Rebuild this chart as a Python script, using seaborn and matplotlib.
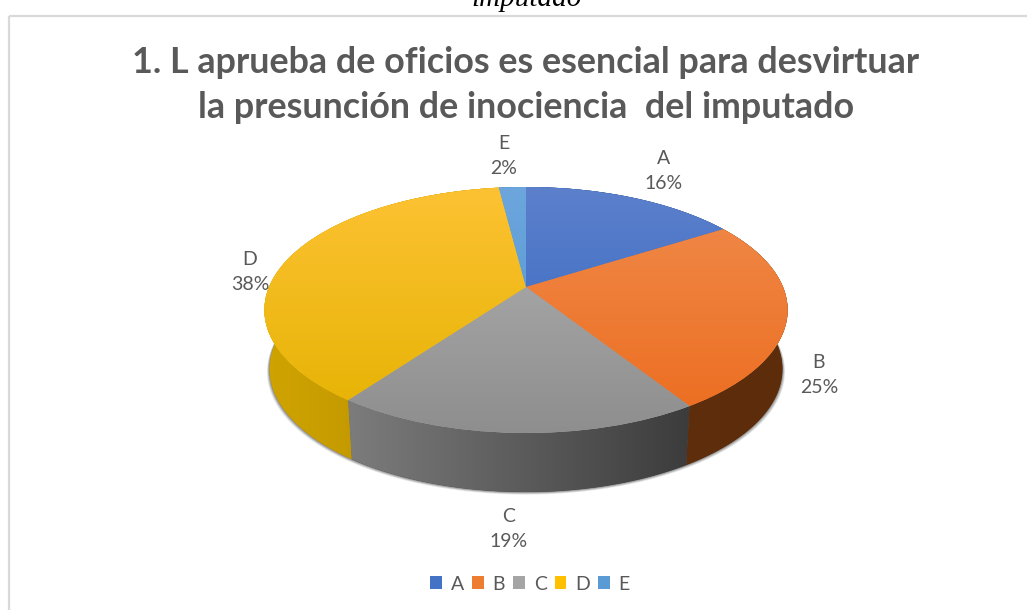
import numpy as np
import matplotlib
matplotlib.use("Agg")
import matplotlib.pyplot as plt
import seaborn as sns
from matplotlib.colors import LinearSegmentedColormap
from matplotlib.patches import Polygon, Rectangle
from matplotlib.transforms import Affine2D, Transform

categories = ["A", "B", "C", "D", "E"]
percentages = [16, 25, 19, 38, 2]
title_text = "1. L aprueba de oficios es esencial para desvirtuar\nla presunción de inociencia  del imputado"
caption_text = "imputado"

base_colors = ["#4472C4", "#ED7D31", "#A5A5A5", "#FFC000", "#5B9BD5"]
top_light = ["#5C80CC", "#F08B4C", "#B2B2B2", "#FDC233", "#6CA6DC"]
top_dark = ["#3064BE", "#EC6C1E", "#8E8E8E", "#E4B200", "#4E94D4"]
wall_left = ["#3A5A9A", "#5F2E0C", "#7C7C7C", "#CFA400", "#4A7FB0"]
wall_right = ["#2A4474", "#5C2C0B", "#3C3C3C", "#B48A00", "#3A6A94"]

sns.set_theme(style="white")
plt.rcParams["font.family"] = ["Lato", "DejaVu Sans"]

GREY = "#595959"
CX, CY = 526, 287          # apex of the pie on the canvas
SX, SY, K = 257, 118.7, 0.187  # perspective of the tilted disc
DEPTH, BOTTOM_SCALE = 59, 0.98


class Perspective(Transform):
    input_dims = output_dims = 2
    is_separable = False
    has_inverse = False

    def transform_non_affine(self, values):
        values = np.asarray(values, dtype=float)
        d = 1 + K * values[:, 1]
        return np.column_stack([values[:, 0] / d, values[:, 1] / d])


def rim(theta1, theta2, scale=1.0, drop=0.0):
    t = np.radians(np.linspace(theta1, theta2, 160))
    d = 1 + K * np.sin(t)
    return np.column_stack([CX + scale * SX * np.cos(t) / d,
                            CY + drop - SY * np.sin(t) / d])


fig = plt.figure(figsize=(10.27, 6.10), dpi=100, facecolor="white")
ax = fig.add_axes([0, 0, 1, 1])

wedges, _ = ax.pie(percentages, colors=sns.color_palette(base_colors),
                   startangle=90, counterclock=False, radius=1)
ax.set_aspect("auto")
ax.set_xlim(0, 1027)
ax.set_ylim(610, 0)
ax.set_autoscale_on(False)

canvas = Affine2D().scale(SX, -SY).translate(CX, CY) + ax.transData
projection = Perspective() + canvas


def gradient(clip, c0, c1, extent, horizontal, z):
    ramp = np.linspace(0, 1, 256)
    data = ramp[None, :] if horizontal else ramp[:, None]
    cmap = LinearSegmentedColormap.from_list("g", [c0, c1])
    im = ax.imshow(data, cmap=cmap, extent=extent, aspect="auto",
                   origin="upper", zorder=z, interpolation="bilinear")
    im.set_clip_path(clip)


# soft shadow under the side wall
for grow, off, alpha in [(2.6, 2.6, 0.10), (1.8, 1.8, 0.16), (0.9, 0.9, 0.22)]:
    ring = rim(0, 360, BOTTOM_SCALE + grow / SX, DEPTH + off)
    ax.add_patch(Polygon(ring, closed=True, fc="black", ec="none", alpha=alpha, zorder=1))

# side wall, one strip for each slice
for w, c0, c1 in zip(wedges, wall_left, wall_right):
    outline = np.vstack([rim(w.theta1, w.theta2),
                         rim(w.theta1, w.theta2, BOTTOM_SCALE, DEPTH)[::-1]])
    strip = Polygon(outline, closed=True, fc=c1, ec="none", zorder=2)
    ax.add_patch(strip)
    x0, x1 = outline[:, 0].min(), outline[:, 0].max()
    gradient(strip, c0, c1, (x0, x1, outline[:, 1].max(), outline[:, 1].min()), True, 2.1)

# top face of the disc
for w, c0, c1 in zip(wedges, top_light, top_dark):
    w.set_transform(projection)
    w.set_edgecolor("none")
    w.set_zorder(3)
    gradient(w, c0, c1, (CX - 265, CX + 265, 433, 187), False, 3.1)

# chart frame (runs off the canvas on the right and at the bottom)
ax.add_patch(Rectangle((9, 15.5), 1040, 620, fc="none", ec="#D9D9D9", lw=1.6, zorder=0.5))

ax.text(527, 6, caption_text, family="Liberation Serif", style="italic",
        fontsize=21, color="black", ha="center", va="baseline")
ax.text(526, 85, title_text, fontsize=25.8, fontweight="bold", color=GREY,
        ha="center", va="center", linespacing=1.47)

label_positions = [(664, 171), (819, 375), (509, 529), (250, 272), (504, 156)]
for cat, pct, (x, y) in zip(categories, percentages, label_positions):
    ax.text(x, y, f"{cat}\n{pct}%", fontsize=14, color=GREY, ha="center",
            va="center", linespacing=1.62, zorder=5)

ax.legend(wedges, categories, loc="center", bbox_to_anchor=(530 / 1027, 1 - 584 / 610),
          ncols=5, frameon=False, fontsize=14, labelcolor=GREY, handlelength=0.6,
          handleheight=0.6, handletextpad=0.45, columnspacing=0.42)

ax.axis("off")
fig.savefig("out.png", dpi=100, facecolor="white")
